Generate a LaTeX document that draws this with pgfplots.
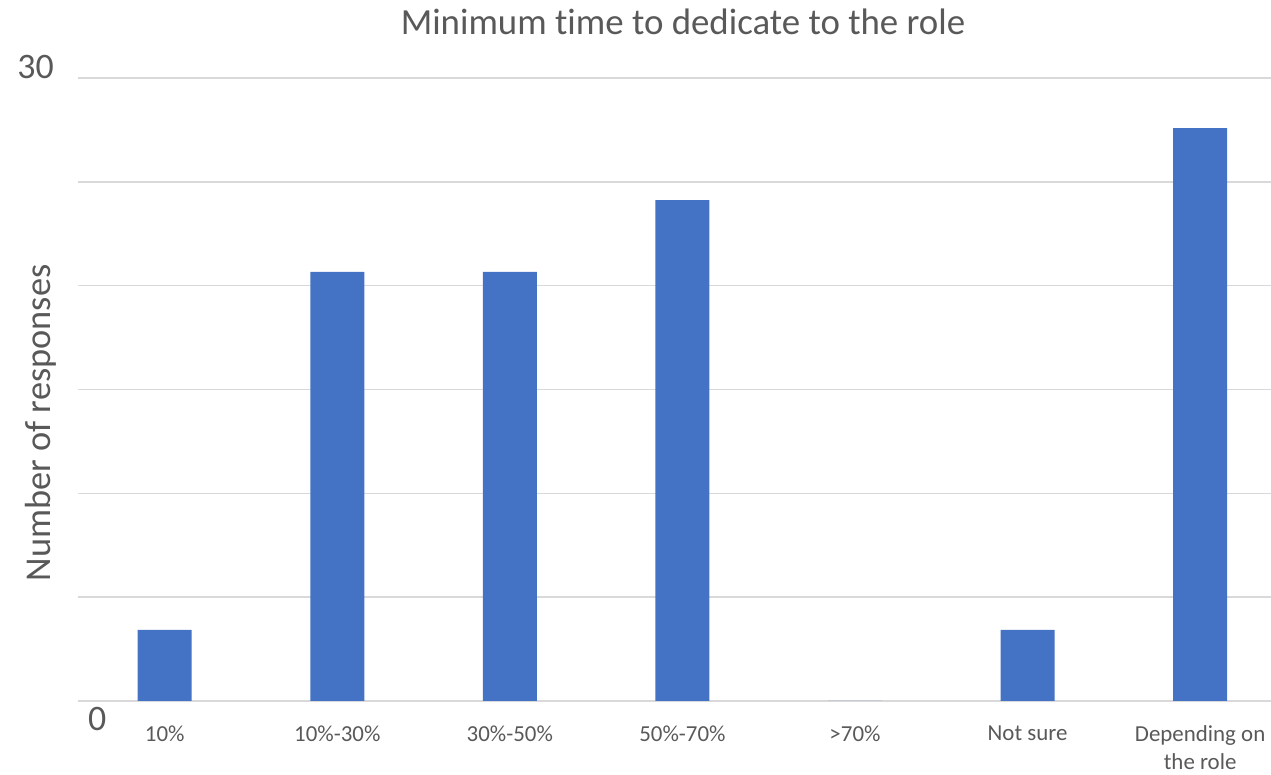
\documentclass[border=0pt]{standalone}
\usepackage{fontspec}
\setmainfont{Carlito}[Ligatures={NoCommon}]
\usepackage{pgfplots}
\pgfplotsset{compat=1.18}
\definecolor{barblue}{HTML}{4472C4}
\definecolor{gridgray}{HTML}{D9D9D9}
\definecolor{txtgray}{HTML}{595959}
\begin{document}
\begin{tikzpicture}[x=1bp,y=1bp]
\path[use as bounding box] (0,0) rectangle (1271,775);
\clip (0,0) rectangle (1271,775);
\begin{axis}[
  at={(78.4bp,74bp)}, anchor=south west,
  scale only axis, width=1208bp, height=623bp,
  xmin=-0.5, xmax=6.5, ymin=0, ymax=30,
  ybar, bar width=54bp,
  axis x line*=bottom, axis y line*=left,
  x axis line style={gridgray, line width=1.5bp, -},
  y axis line style={draw=none},
  xtick=data, xtick style={draw=none}, ytick style={draw=none},
  xticklabels={10\%,10\%-30\%,30\%-50\%,50\%-70\%,>70\%,Not sure,{Depending on\\the role}},
  xticklabel style={font=\fontsize{23}{28}\selectfont, text=txtgray, align=center, anchor=north, yshift=-21bp},
  ytick={0,5,...,30}, yticklabels={},
  ymajorgrids, grid style={gridgray, line width=1.5bp},
  major tick length=0pt,
]
\addplot[fill=barblue, draw=none] coordinates {(0,3.42) (1,20.66) (2,20.66) (3,24.12) (4,0) (5,3.42) (6,27.59)};
\end{axis}
\node[anchor=base, text=txtgray, font=\fontsize{37}{40}\selectfont] at (683,775-35) {Minimum time to dedicate to the role};
\node[anchor=base east, text=txtgray, font=\fontsize{36}{40}\selectfont, inner sep=0pt] at (54,775-79) {30};
\node[anchor=base west, text=txtgray, font=\fontsize{36}{40}\selectfont, inner sep=0pt] at (88,775-731) {0};
\node[rotate=90, anchor=base, text=txtgray, font=\fontsize{36.5}{40}\selectfont, inner sep=0pt] at (50,775-423) {Number of responses};
\end{tikzpicture}
\end{document}
